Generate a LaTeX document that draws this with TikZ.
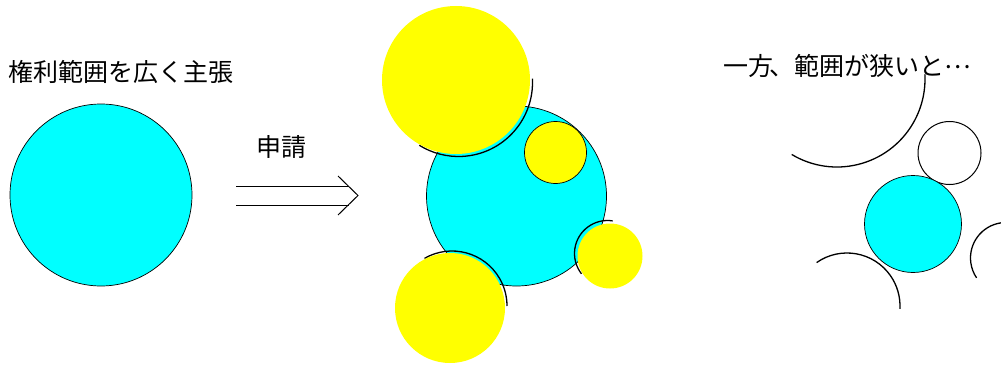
\documentclass[tikz,border=0pt]{standalone}
\usepackage{fontspec}
\usetikzlibrary{positioning}
\newfontfamily\jpfont{Noto Sans CJK JP}
\definecolor{claimcyan}{RGB}{0,255,255}
\definecolor{prioryellow}{RGB}{255,255,0}
\tikzset{
    % Claimed scope (cyan disc)
    claim/.style={
        circle, draw=black, fill=claimcyan,
        inner sep=0pt, line width=0.7pt
    },
    % Prior art disc, no outline
    prior/.style={circle, fill=prioryellow, inner sep=0pt},
    % Prior art disc with outline
    outlinedprior/.style={prior, draw=black, line width=0.7pt},
    % Empty prior art disc (right side)
    emptyprior/.style={circle, draw=black, fill=white, inner sep=0pt, line width=1pt},
}
\tikzset{
    % Edge of a prior art disc
    priorarc/.style={line width=1.3pt, black},
    arrowline/.style={line width=1pt},
    caption/.style={font=\jpfont\fontsize{25}{30}\selectfont, inner sep=0pt}
}

\begin{document}
\begin{tikzpicture}[x=1pt,y=1pt]
  \useasboundingbox (0,0) rectangle (1001,365);
  % wide claim
  \node[caption,anchor=west] (widetitle) at (8,293) {権利範囲を広く主張};
  \node[claim,minimum size=182pt] (wideclaim) at (101,170) {};
  % filing
  \node[caption] (filing) at (281,218) {申請};
  \coordinate (arrowstart) at (236,169.5);
  \coordinate (arrowtip) at (358,169.5);
  \draw[arrowline] ([yshift=9.5pt]arrowstart) -- ([xshift=-9pt,yshift=9.5pt]arrowtip);
  \draw[arrowline] ([yshift=-9.5pt]arrowstart) -- ([xshift=-9pt,yshift=-9.5pt]arrowtip);
  \draw[arrowline] ([xshift=-20pt,yshift=19.5pt]arrowtip) -- (arrowtip)
                   -- ([xshift=-20pt,yshift=-19.5pt]arrowtip);
  % granted claim with prior art
  \node[claim,minimum size=180pt] (midclaim) at (516.5,169) {};
  \coordinate (arcA) at (458.5,282.5);
  \coordinate (arcC) at (607.5,111.5);
  \coordinate (arcD) at (452,59);
  \draw[priorarc] (arcA) ++(3:74) arc[start angle=3,end angle=-122,radius=74];
  \draw[priorarc] (arcC) ++(81:33) arc[start angle=81,end angle=218,radius=33];
  \draw[priorarc] (arcD) ++(120:55) arc[start angle=120,end angle=0,radius=55];
  \node[prior,minimum size=148pt] (priorA) at (456,285) {};
  \node[outlinedprior,minimum size=62pt] (priorB) at (555.5,212.5) {};
  \node[prior,minimum size=65pt] (priorC) at (610,109) {};
  \node[prior,minimum size=110pt] (priorD) at (450,57) {};
  % narrow claim
  \node[caption,anchor=west] (narrowtitle) at (723,299)
       {一方\kern-4pt、範囲が狭いと\raisebox{0.3em}{…}};
  \coordinate (emptyA) at (837,286);
  \coordinate (emptyD) at (847,59);
  \coordinate (emptyC) at (1006,107);
  \draw[priorarc] (emptyA) ++(-121:88) arc[start angle=-121,end angle=3,radius=88];
  \draw[priorarc] (emptyD) ++(125:53) arc[start angle=125,end angle=-3,radius=53];
  \draw[priorarc] (emptyC) ++(98:35.5) arc[start angle=98,end angle=214,radius=35.5];
  \node[emptyprior,minimum size=63pt] (emptyB) at (949.5,212) {};
  \node[claim,minimum size=97pt] (narrowclaim) at (913,141) {};
\end{tikzpicture}
\end{document}
